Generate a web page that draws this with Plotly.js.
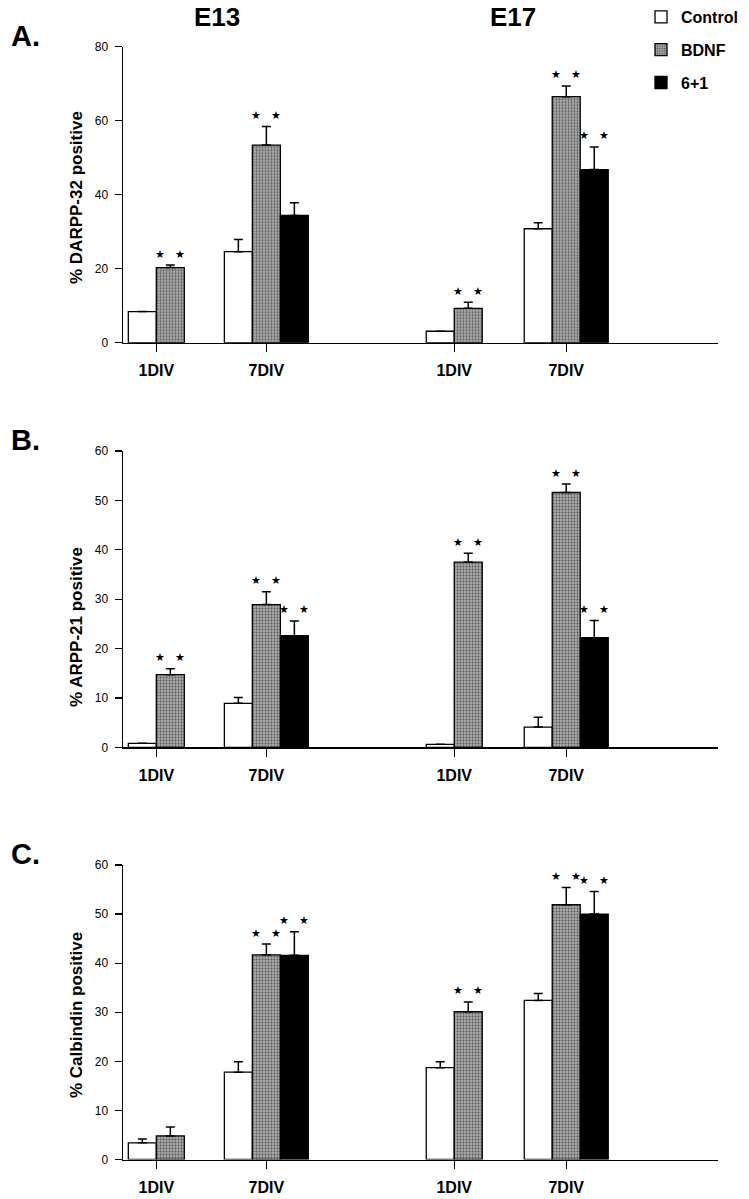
<!DOCTYPE html>
<html><head><meta charset="utf-8">
<script src="https://cdn.plot.ly/plotly-3.0.1.min.js"></script>
<style>html,body{margin:0;padding:0;background:#fff;}</style>
</head><body>
<div id="chart" style="width:749px;height:1199px;"></div>
<script>
// ---------- categories ----------
const stages = ['E13', 'E13', 'E17', 'E17'];
const divLabels = ['1DIV', '7DIV', '1DIV', '7DIV'];
const stageHeaders = ['E13', 'E17'];
const seriesNames = ['Control', 'BDNF', '6+1'];
const panelLetters = ['A.', 'B.', 'C.'];
const yTitles = ['% DARPP-32 positive', '% ARPP-21 positive', '% Calbindin positive'];
const yMax = [80, 60, 60];
const yStep = [20, 10, 10];

// ---------- Panel A: DARPP-32 ----------
const aControl = [8.4, 24.6, 3.1, 30.8];
const aControlTop = [null, 27.9, null, 32.4];
const aBdnf = [20.3, 53.4, 9.3, 66.5];
const aBdnfTop = [21.0, 58.4, 10.9, 69.4];
const aSix = [null, 34.4, null, 46.8];
const aSixTop = [null, 37.8, null, 52.9];
const aStarsBdnf = [true, true, true, true];
const aStarsSix = [false, false, false, true];

// ---------- Panel B: ARPP-21 ----------
const bControl = [0.8, 8.9, 0.6, 4.1];
const bControlTop = [null, 10.1, null, 6.1];
const bBdnf = [14.7, 28.9, 37.5, 51.6];
const bBdnfTop = [15.9, 31.5, 39.3, 53.3];
const bSix = [null, 22.6, null, 22.2];
const bSixTop = [null, 25.6, null, 25.7];
const bStarsBdnf = [true, true, true, true];
const bStarsSix = [false, true, false, true];

// ---------- Panel C: Calbindin ----------
const cControl = [3.4, 17.8, 18.7, 32.4];
const cControlTop = [4.2, 19.9, 19.9, 33.8];
const cBdnf = [4.8, 41.7, 30.1, 51.9];
const cBdnfTop = [6.6, 43.9, 32.1, 55.4];
const cSix = [null, 41.6, null, 50.0];
const cSixTop = [null, 46.4, null, 54.6];
const cStarsBdnf = [false, true, true, true];
const cStarsSix = [false, true, false, true];

// ---------- layout constants (positions / styles) ----------
const W = 749, H = 1199, ML = 123, MR = 31;
const plotW = W - ML - MR;
const barW = 1;
const groupPos = [1.19, 5.12, 11.83, 15.83];
const xRange = [0, plotW / 28];
const panelPx = [{top: 46.7, bottom: 342.7}, {top: 451, bottom: 747.3}, {top: 865, bottom: 1159.5}];
const colors = ['#ffffff', '#9c9c9c', '#000000'];
const FONT = 'Liberation Sans, Arial, Helvetica, sans-serif';
const NARROW = 'Liberation Sans Narrow, Liberation Sans, Arial, sans-serif';

const panels = [
  {vals: [aControl, aBdnf, aSix], tops: [aControlTop, aBdnfTop, aSixTop], stars: [null, aStarsBdnf, aStarsSix]},
  {vals: [bControl, bBdnf, bSix], tops: [bControlTop, bBdnfTop, bSixTop], stars: [null, bStarsBdnf, bStarsSix]},
  {vals: [cControl, cBdnf, cSix], tops: [cControlTop, cBdnfTop, cSixTop], stars: [null, cStarsBdnf, cStarsSix]}
];

const px2x = px => (px - ML) / plotW;
const px2y = py => 1 - py / H;

const traces = [];
const annotations = [];
const layout = {
  width: W, height: H,
  margin: {l: ML, r: MR, t: 0, b: 0},
  paper_bgcolor: '#fff', plot_bgcolor: 'rgba(0,0,0,0)',
  barmode: 'overlay',
  showlegend: true,
  legend: {
    x: px2x(641), y: px2y(0), xanchor: 'left', yanchor: 'top',
    font: {family: FONT, size: 16, color: '#000', weight: 'bold'},
    bgcolor: 'rgba(0,0,0,0)', tracegroupgap: 9, traceorder: 'grouped'
  },
  annotations: annotations
};

panels.forEach((panel, p) => {
  const sfx = p === 0 ? '' : String(p + 1);
  const xa = 'x' + sfx, ya = 'y' + sfx;
  seriesNames.forEach((name, s) => {
    const xs = [], ys = [], errs = [];
    for (let g = 0; g < divLabels.length; g++) {
      const v = panel.vals[s][g];
      if (v === null) continue;
      const present = seriesNames.map((_, k) => k).filter(k => panel.vals[k][g] !== null);
      const i = present.indexOf(s), n = present.length;
      const xc = groupPos[g] + (i - (n - 1) / 2) * barW;
      xs.push(xc); ys.push(v);
      const t = panel.tops[s][g];
      errs.push(t === null ? NaN : t - v);
      if (panel.stars[s] && panel.stars[s][g]) {
        [-10, 10].forEach(dx => annotations.push({
          x: xc, y: t === null ? v : t, xref: xa, yref: ya,
          text: '★', showarrow: false, xshift: dx, yshift: 11,
          font: {family: 'DejaVu Sans, sans-serif', size: 11, color: '#000'}
        }));
      }
    }
    const marker = {color: colors[s], line: {color: '#000', width: 1.3}};
    if (s === 1) marker.pattern = {shape: '.', fgcolor: '#555555', bgcolor: '#a8a8a8', size: 3, solidity: 0.3};
    traces.push({
      type: 'bar', name: name, x: xs, y: ys, xaxis: xa, yaxis: ya,
      width: barW, marker: marker, cliponaxis: false,
      legendgroup: name, showlegend: p === 0,
      error_y: {type: 'data', symmetric: false, array: errs, arrayminus: errs.map(() => 0),
        color: '#000', thickness: 1.5, width: 4.5}
    });
  });

  const d = [px2y(panelPx[p].bottom), px2y(panelPx[p].top)];
  layout['xaxis' + sfx] = {
    anchor: ya, domain: [0, 1], range: xRange, fixedrange: true,
    tickmode: 'array', tickvals: groupPos, ticktext: divLabels,
    ticks: 'outside', ticklen: 8, tickwidth: 1.3, tickcolor: '#000',
    showline: true, linecolor: '#000', linewidth: 1.5,
    showgrid: false, zeroline: false, ticklabelstandoff: 5,
    tickfont: {family: FONT, size: 16, color: '#000', weight: 'bold'}
  };
  layout['yaxis' + sfx] = {
    anchor: xa, domain: d, range: [0, yMax[p]], dtick: yStep[p], tick0: 0,
    ticks: 'outside', ticklen: 7, tickwidth: 1.3, tickcolor: '#000',
    showline: true, linecolor: '#000', linewidth: 1.5,
    showgrid: false, zeroline: false, ticklabelstandoff: 4,
    tickfont: {family: NARROW, size: 12, color: '#000'}
  };

  // panel letter
  annotations.push({
    x: px2x(9), y: px2y(panelPx[p].top - 11), xref: 'paper', yref: 'paper',
    xanchor: 'left', yanchor: 'middle', showarrow: false, text: panelLetters[p],
    font: {family: FONT, size: 29, color: '#000', weight: 'bold'}
  });
});

// y-axis titles (placed as rotated text to match the figure)
const yTitleCenters = [198, 627, 1015];
yTitles.forEach((t, p) => annotations.push({
  x: px2x(76), y: px2y(yTitleCenters[p]), xref: 'paper', yref: 'paper',
  xanchor: 'center', yanchor: 'middle', textangle: -90, showarrow: false, text: t,
  font: {family: FONT, size: 17, color: '#000', weight: 'bold'}
}));

// stage headers
const headerX = [217, 513];
stageHeaders.forEach((t, k) => annotations.push({
  x: px2x(headerX[k]), y: px2y(17), xref: 'paper', yref: 'paper',
  xanchor: 'center', yanchor: 'middle', showarrow: false, text: t,
  font: {family: FONT, size: 26, color: '#000', weight: 'bold'}
}));

Plotly.newPlot('chart', traces, layout, {staticPlot: true, displayModeBar: false});
</script>
</body></html>
